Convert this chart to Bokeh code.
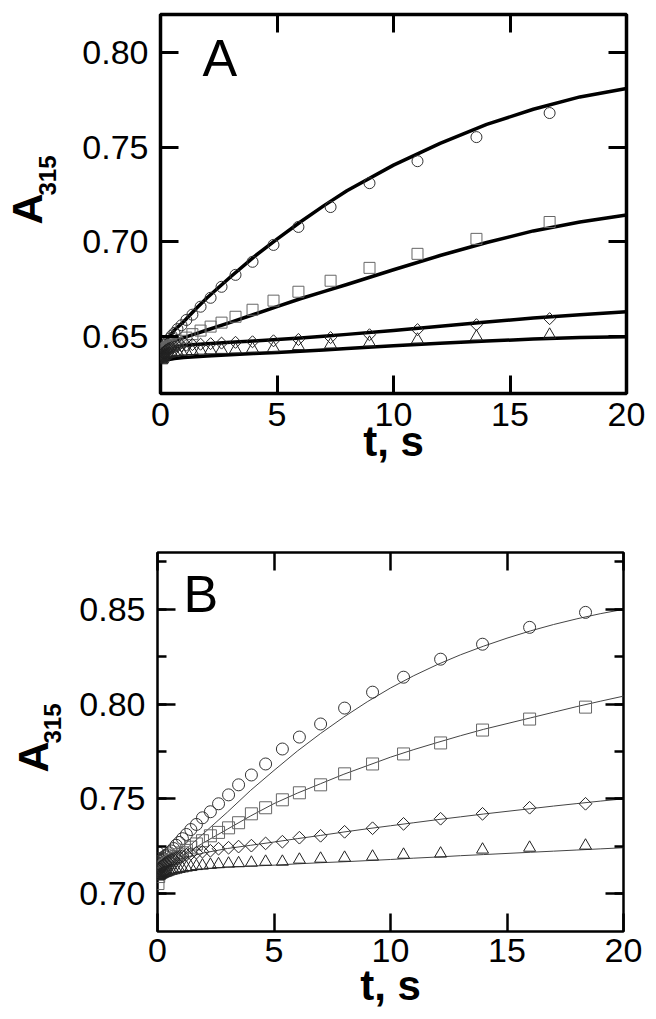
import math
from bokeh.plotting import figure
from bokeh.models import (Range1d, LinearAxis, SingleIntervalTicker,
                          PrintfTickFormatter, Label)
from bokeh.layouts import column, row
from bokeh.embed import file_html
from bokeh.resources import INLINE

# ---------------- data: panel A ----------------
tA = [0.03, 0.05, 0.07, 0.09, 0.11, 0.14, 0.17, 0.21, 0.26, 0.32, 0.39, 0.48,
      0.60, 0.73, 0.90, 1.11, 1.37, 1.72, 2.15, 2.62, 3.22, 3.95, 4.85, 5.92,
      7.30, 8.97, 11.03, 13.56, 16.70]
circA = [0.6405, 0.6420, 0.6410, 0.6435, 0.6425, 0.6440, 0.6445, 0.6455, 0.6465,
         0.6478, 0.6490, 0.6505, 0.6520, 0.6540, 0.6560, 0.6588, 0.6616, 0.6658,
         0.6705, 0.6763, 0.6826, 0.6895, 0.6984, 0.7079, 0.7184, 0.7310, 0.7426,
         0.7553, 0.7680]
sqA = [0.6395, 0.6410, 0.6405, 0.6420, 0.6415, 0.6425, 0.6430, 0.6435, 0.6440,
       0.6445, 0.6450, 0.6455, 0.6460, 0.6467, 0.6478, 0.6495, 0.6513, 0.6532,
       0.6553, 0.6574, 0.6605, 0.6642, 0.6690, 0.6737, 0.6795, 0.6863, 0.6937,
       0.7016, 0.7105]
diaA = [0.6405, 0.6395, 0.6410, 0.6400, 0.6415, 0.6410, 0.6420, 0.6425, 0.6430,
        0.6435, 0.6440, 0.6443, 0.6446, 0.6449, 0.6452, 0.6455, 0.6458, 0.6460,
        0.6463, 0.6466, 0.6470, 0.6473, 0.6478, 0.6485, 0.6495, 0.6510, 0.6537,
        0.6563, 0.6595]
triA = [0.6380, 0.6375, 0.6390, 0.6380, 0.6395, 0.6390, 0.6398, 0.6400, 0.6405,
        0.6408, 0.6410, 0.6413, 0.6416, 0.6418, 0.6420, 0.6422, 0.6424, 0.6426,
        0.6428, 0.6430, 0.6432, 0.6436, 0.6440, 0.6450, 0.6458, 0.6468, 0.6484,
        0.6500, 0.6510]

tFitA = [0, 0.1, 0.3, 0.6, 1, 1.5, 2, 3, 4, 5, 6, 7, 8, 10, 12, 14, 16, 18, 20]
circFitA = [0.641, 0.645, 0.649, 0.6535, 0.658, 0.6645, 0.6705, 0.6815, 0.692,
            0.7015, 0.7105, 0.719, 0.727, 0.7405, 0.752, 0.762, 0.770, 0.7765, 0.781]
sqFitA = [0.641, 0.6445, 0.6465, 0.648, 0.6495, 0.6515, 0.6535, 0.6575, 0.6617,
          0.6658, 0.670, 0.6738, 0.6775, 0.6853, 0.6928, 0.6997, 0.7058, 0.7105, 0.7142]
diaFitA = [0.640, 0.642, 0.6437, 0.6447, 0.6453, 0.6458, 0.6462, 0.647, 0.6477,
           0.6485, 0.6493, 0.6502, 0.6512, 0.6533, 0.6555, 0.6577, 0.6598, 0.6616, 0.6632]
triFitA = [0.6365, 0.637, 0.6378, 0.6385, 0.639, 0.6394, 0.6398, 0.6405, 0.6411,
           0.6417, 0.6423, 0.643, 0.6437, 0.6452, 0.6465, 0.6477, 0.6487, 0.6495, 0.650]

# ---------------- data: panel B ----------------
tB = [0.02, 0.05, 0.08, 0.11, 0.15, 0.19, 0.24, 0.29, 0.35, 0.42, 0.50, 0.59,
      0.69, 0.80, 0.93, 1.07, 1.24, 1.43, 1.67, 1.93, 2.27, 2.62, 3.05, 3.48,
      4.03, 4.64, 5.36, 6.09, 7.00, 8.03, 9.23, 10.56, 12.15, 13.95, 15.97, 18.37]
circB = [0.7216, 0.7185, 0.7170, 0.7160, 0.7175, 0.7180, 0.7185, 0.7195, 0.7200,
         0.7205, 0.7215, 0.7225, 0.7238, 0.7255, 0.7270, 0.7290, 0.7312, 0.7338,
         0.7365, 0.7400, 0.7432, 0.7474, 0.7521, 0.7574, 0.7626, 0.7684, 0.7763,
         0.7826, 0.7895, 0.7979, 0.8063, 0.8142, 0.8237, 0.8316, 0.8405, 0.8484]
sqB = [0.7053, 0.7090, 0.7105, 0.7120, 0.7125, 0.7130, 0.7140, 0.7145, 0.7150,
       0.7160, 0.7165, 0.7175, 0.7185, 0.7195, 0.7205, 0.7215, 0.7228, 0.7245,
       0.7262, 0.7279, 0.7305, 0.7323, 0.7347, 0.7374, 0.7421, 0.7453, 0.7495,
       0.7532, 0.7574, 0.7632, 0.7684, 0.7737, 0.7795, 0.7863, 0.7921, 0.7984]
diaB = [0.7125, 0.7120, 0.7135, 0.7128, 0.7142, 0.7145, 0.7150, 0.7155, 0.7162,
        0.7168, 0.7172, 0.7178, 0.7182, 0.7188, 0.7193, 0.7198, 0.7205, 0.7210,
        0.7216, 0.7221, 0.7226, 0.7237, 0.7242, 0.7248, 0.7253, 0.7265, 0.7274,
        0.7295, 0.7305, 0.7326, 0.7345, 0.7368, 0.7395, 0.7421, 0.7453, 0.7474]
triB = [0.7090, 0.7093, 0.7095, 0.7098, 0.7100, 0.7102, 0.7105, 0.7108, 0.7110,
        0.7113, 0.7117, 0.7120, 0.7123, 0.7126, 0.7130, 0.7133, 0.7137, 0.7140,
        0.7145, 0.7148, 0.7152, 0.7155, 0.7158, 0.7160, 0.7163, 0.7168, 0.7168,
        0.7179, 0.7184, 0.7189, 0.7195, 0.7205, 0.7211, 0.7232, 0.7242, 0.7253]

tFitB = [0, 0.5, 1, 2, 3, 4, 5, 6, 7, 8, 9, 10, 11, 12, 13, 14, 15, 16, 17, 18, 19, 20]
circFitB = [0.710, 0.7155, 0.721, 0.732, 0.743, 0.7545, 0.765, 0.7752, 0.7845,
            0.7932, 0.8012, 0.8085, 0.815, 0.8208, 0.826, 0.8306, 0.8348, 0.8386,
            0.842, 0.845, 0.8477, 0.850]
sqFitB = [0.712, 0.7158, 0.7195, 0.727, 0.734, 0.741, 0.7475, 0.753, 0.758, 0.763,
          0.7675, 0.772, 0.776, 0.7797, 0.7833, 0.7867, 0.7897, 0.7927, 0.7957,
          0.7987, 0.8015, 0.8042]
diaFitB = [0.711, 0.716, 0.7185, 0.7215, 0.7238, 0.7255, 0.7272, 0.729, 0.7307,
           0.7325, 0.7342, 0.7358, 0.7374, 0.739, 0.7405, 0.742, 0.7434, 0.7448,
           0.7462, 0.7475, 0.7488, 0.750]
triFitB = [0.7095, 0.7105, 0.7115, 0.713, 0.714, 0.7145, 0.715, 0.7157, 0.7163,
           0.7168, 0.7174, 0.718, 0.7187, 0.7193, 0.720, 0.7206, 0.7212, 0.7218,
           0.7224, 0.723, 0.7236, 0.7242]

x_title = "t, s"
y_label_main = "A"
y_label_sub = "315"

FONT = "Liberation Sans"
FW, FH = 466, 379
LABW = 70   # width of the strip holding the rotated y title


def make_panel(letter, letter_pos, ylo, yhi, minor, border, lw_frame, tick_w,
               series, fits, fit_color, fit_width, sizes, standoff_x,
               title_standoff):
    left, right, top, bottom = border
    p = figure(frame_width=FW, frame_height=FH, output_backend="svg",
               toolbar_location=None, x_range=Range1d(0, 20),
               y_range=Range1d(ylo, yhi),
               min_border_left=left, min_border_right=right,
               min_border_top=top, min_border_bottom=bottom)
    p.grid.visible = False
    p.background_fill_color = "white"
    p.border_fill_color = "white"
    p.outline_line_color = "black"
    p.outline_line_width = lw_frame

    xt = SingleIntervalTicker(interval=5, num_minor_ticks=0)
    yt = SingleIntervalTicker(interval=0.05, num_minor_ticks=minor)
    for ax in (p.xaxis[0], p.yaxis[0]):
        ax.axis_line_color = None
        ax.major_tick_in = 18
        ax.major_tick_out = 0
        ax.minor_tick_in = 9
        ax.minor_tick_out = 0
        ax.major_tick_line_width = tick_w
        ax.minor_tick_line_width = tick_w
        ax.major_label_text_font = FONT
        ax.major_label_text_font_size = "34px"
        ax.major_label_text_color = "black"
    p.xaxis[0].ticker = xt
    p.yaxis[0].ticker = yt
    p.xaxis[0].major_label_standoff = standoff_x
    p.yaxis[0].major_label_standoff = 12
    p.yaxis[0].formatter = PrintfTickFormatter(format="%.2f")

    p.xaxis[0].axis_label = x_title
    p.xaxis[0].axis_label_text_font = FONT
    p.xaxis[0].axis_label_text_font_size = "42px"
    p.xaxis[0].axis_label_text_font_style = "bold"
    p.xaxis[0].axis_label_text_color = "black"
    p.xaxis[0].axis_label_standoff = title_standoff

    for tk, side in ((xt, "above"), (yt, "right")):
        ax = LinearAxis(ticker=tk, axis_line_color=None,
                        major_tick_in=18, major_tick_out=0,
                        minor_tick_in=9, minor_tick_out=0,
                        major_tick_line_width=tick_w,
                        minor_tick_line_width=tick_w,
                        major_label_text_font_size="1px",
                        major_label_text_color=None,
                        major_label_standoff=0)
        p.add_layout(ax, side)

    tf = fits[0]
    for yv in fits[1:]:
        p.line(tf, yv, line_color=fit_color, line_width=fit_width,
               line_join="round", line_cap="round")

    t = series[0]
    cs, ss, ds, ts = sizes
    p.scatter(t, series[1], marker="circle", size=cs, fill_color=None,
              line_color="#333333", line_width=1)
    p.scatter(t, series[2], marker="square", size=ss, fill_color=None,
              line_color="#666666", line_width=1)
    p.scatter(t, series[3], marker="square", angle=math.pi / 4, size=ds,
              fill_color=None, line_color="#222222", line_width=1)
    p.scatter(t, series[4], marker="triangle", size=ts, fill_color=None,
              line_color="#222222", line_width=1)

    # panel letter (inside the frame), centre given in frame pixels
    lx = letter_pos[0] / FW * 20.0
    ly = yhi - letter_pos[1] / FH * (yhi - ylo)
    p.add_layout(Label(x=lx, y=ly, text=letter, text_font=FONT,
                       text_font_size="52px", text_align="left",
                       text_baseline="middle", text_color="black"))
    return p


def make_ylabel(top, bottom, a_pos, s_pos):
    # strip whose frame matches the neighbouring plot frame vertically;
    # label positions are given in page pixels relative to the panel top
    q = figure(frame_width=LABW, frame_height=FH, output_backend="svg",
               toolbar_location=None, x_range=Range1d(0, LABW),
               y_range=Range1d(0, FH), x_axis_location=None,
               y_axis_location=None, min_border_left=0, min_border_right=0,
               min_border_top=top, min_border_bottom=bottom, title=None)
    q.grid.visible = False
    q.outline_line_color = None
    q.background_fill_color = "white"
    q.border_fill_color = "white"
    for pos, txt, fs in ((a_pos, y_label_main, "43px"), (s_pos, y_label_sub, "24px")):
        q.add_layout(Label(x=pos[0], y=FH - (pos[1] - top), text=txt,
                           text_font=FONT, text_font_size=fs,
                           text_font_style="bold", angle=math.pi / 2,
                           text_align="left", text_baseline="top",
                           text_color="black"))
    return q


pA = make_panel("A", (42, 43), 0.62, 0.82, 0, (160 - LABW, 22, 14, 137), 3.5, 3,
                (tA, circA, sqA, diaA, triA),
                (tFitA, circFitA, sqFitA, diaFitA, triFitA),
                "black", 3.5, (11, 11, 8.5, 12), 9, -11)
pB = make_panel("B", (26, 41), 0.68, 0.88, 2, (157 - LABW, 25, 22, 79), 2.5, 2.5,
                (tB, circB, sqB, diaB, triB),
                (tFitB, circFitB, sqFitB, diaFitB, triFitB),
                "#444444", 1.0, (12, 12, 9, 12), 7, -3)

yA = make_ylabel(14, 137, (2, 224), (38, 195))
yB = make_ylabel(22, 79, (8, 242), (43, 213))

layout = column(row(yA, pA), row(yB, pB))
open("out.html", "w").write(file_html(layout, INLINE))
